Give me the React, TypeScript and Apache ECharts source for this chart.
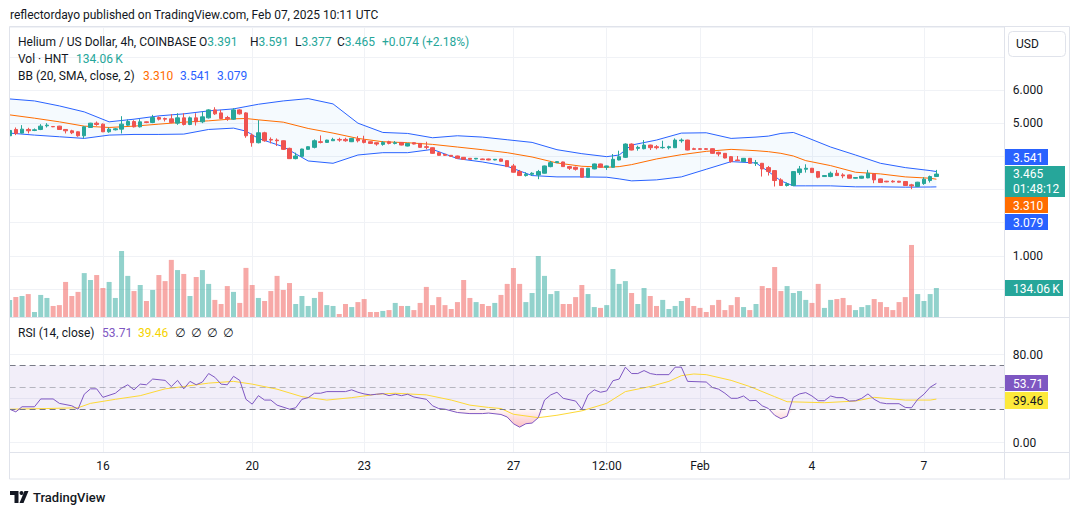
import React, { useEffect, useRef } from 'react';
import * as echarts from 'echarts';

// ---------- DATA ----------
// 4h candles, index 0 = Jan 13 12:00 ... index 149 = Feb 7 08:00
const candleOpen = [
  4.62, 4.81, 4.70, 4.81, 4.78, 4.81, 4.92, 4.90, 4.91, 4.81,
  4.77, 4.74, 4.62, 4.87, 5.00, 4.97, 4.74, 4.80, 4.82, 4.94,
  5.05, 4.89, 5.04, 5.02, 5.17, 5.14, 5.13, 5.00, 5.16, 4.96,
  5.16, 5.04, 5.16, 5.40, 5.31, 5.17, 5.12, 5.40, 5.31, 4.64,
  4.41, 4.71, 4.51, 4.49, 4.47, 4.24, 3.93, 4.00, 4.21, 4.27,
  4.44, 4.42, 4.47, 4.51, 4.51, 4.44, 4.52, 4.49, 4.44, 4.41,
  4.36, 4.44, 4.39, 4.42, 4.31, 4.41, 4.39, 4.29, 4.26, 4.11,
  4.06, 4.03, 4.01, 3.97, 3.94, 3.92, 3.92, 3.92, 3.89, 3.92,
  3.87, 3.71, 3.54, 3.42, 3.46, 3.44, 3.49, 3.69, 3.81, 3.83,
  3.69, 3.67, 3.64, 3.37, 3.62, 3.77, 3.67, 3.67, 3.89, 3.97,
  4.37, 4.24, 4.23, 4.34, 4.29, 4.26, 4.26, 4.26, 4.47, 4.49,
  4.23, 4.23, 4.23, 4.23, 4.12, 4.09, 3.99, 3.89, 3.84, 3.94,
  3.79, 3.79, 3.66, 3.57, 3.29, 3.12, 3.12, 3.51, 3.61, 3.64,
  3.54, 3.39, 3.39, 3.49, 3.44, 3.44, 3.34, 3.34, 3.35, 3.47,
  3.32, 3.25, 3.25, 3.25, 3.24, 3.14, 3.09, 3.18, 3.27, 3.391,
];
const candleClose = [
  4.78, 4.69, 4.82, 4.77, 4.80, 4.91, 4.94, 4.89, 4.81, 4.77,
  4.71, 4.62, 4.89, 5.00, 4.96, 4.74, 4.82, 4.83, 4.97, 5.05,
  4.89, 5.04, 5.02, 5.17, 5.12, 5.12, 5.02, 5.16, 4.96, 5.16,
  5.04, 5.19, 5.40, 5.28, 5.14, 5.13, 5.40, 5.28, 4.62, 4.41,
  4.71, 4.47, 4.49, 4.47, 4.21, 3.93, 4.01, 4.22, 4.29, 4.47,
  4.42, 4.49, 4.51, 4.49, 4.47, 4.54, 4.47, 4.42, 4.39, 4.37,
  4.42, 4.39, 4.41, 4.34, 4.39, 4.37, 4.27, 4.27, 4.09, 4.03,
  4.03, 4.00, 3.94, 3.91, 3.91, 3.94, 3.90, 3.89, 3.91, 3.85,
  3.69, 3.52, 3.42, 3.46, 3.49, 3.54, 3.71, 3.81, 3.84, 3.69,
  3.64, 3.61, 3.37, 3.64, 3.77, 3.67, 3.71, 3.91, 3.99, 4.37,
  4.19, 4.27, 4.34, 4.26, 4.26, 4.27, 4.29, 4.49, 4.49, 4.19,
  4.21, 4.21, 4.21, 4.09, 4.07, 3.95, 3.84, 3.87, 3.94, 3.79,
  3.81, 3.62, 3.54, 3.27, 3.12, 3.17, 3.54, 3.62, 3.64, 3.51,
  3.37, 3.42, 3.49, 3.42, 3.41, 3.34, 3.36, 3.40, 3.49, 3.29,
  3.21, 3.23, 3.23, 3.22, 3.12, 3.11, 3.22, 3.31, 3.39, 3.465,
];
const candleLow = [
  4.58, 4.64, 4.69, 4.69, 4.76, 4.79, 4.87, 4.88, 4.80, 4.69,
  4.67, 4.59, 4.54, 4.86, 4.92, 4.73, 4.71, 4.78, 4.69, 4.92,
  4.87, 4.87, 5.00, 5.00, 5.08, 5.05, 5.00, 4.95, 4.93, 4.94,
  4.93, 5.00, 5.14, 5.25, 5.12, 5.07, 5.10, 5.26, 4.56, 4.29,
  4.39, 4.44, 4.39, 4.31, 4.19, 3.92, 3.91, 3.98, 4.20, 4.24,
  4.39, 4.41, 4.47, 4.44, 4.44, 4.43, 4.42, 4.39, 4.38, 4.32,
  4.32, 4.36, 4.36, 4.33, 4.30, 4.36, 4.26, 4.21, 4.08, 4.02,
  4.01, 3.98, 3.93, 3.90, 3.90, 3.91, 3.89, 3.88, 3.88, 3.84,
  3.68, 3.51, 3.41, 3.39, 3.41, 3.31, 3.48, 3.67, 3.80, 3.68,
  3.59, 3.57, 3.36, 3.36, 3.61, 3.66, 3.59, 3.66, 3.88, 3.95,
  4.18, 4.17, 4.21, 4.19, 4.21, 4.23, 4.21, 4.25, 4.41, 4.18,
  4.19, 4.20, 4.20, 4.08, 4.00, 3.94, 3.81, 3.86, 3.83, 3.78,
  3.71, 3.39, 3.42, 3.09, 3.11, 3.09, 3.11, 3.44, 3.51, 3.50,
  3.34, 3.38, 3.37, 3.41, 3.34, 3.33, 3.33, 3.33, 3.34, 3.19,
  3.20, 3.22, 3.21, 3.21, 3.11, 3.01, 3.08, 3.14, 3.21, 3.377,
];
const candleHigh = [
  4.84, 4.87, 4.94, 4.86, 4.84, 4.97, 5.00, 4.91, 4.92, 4.82,
  4.80, 4.75, 4.91, 5.01, 5.05, 4.99, 4.87, 4.85, 5.21, 5.11,
  5.09, 5.12, 5.05, 5.25, 5.20, 5.17, 5.27, 5.30, 5.30, 5.20,
  5.30, 5.35, 5.42, 5.48, 5.40, 5.22, 5.45, 5.42, 5.33, 4.69,
  5.09, 4.74, 4.57, 4.54, 4.48, 4.26, 4.11, 4.23, 4.30, 4.51,
  4.63, 4.50, 4.56, 4.56, 4.56, 4.55, 4.61, 4.62, 4.45, 4.42,
  4.46, 4.47, 4.46, 4.43, 4.40, 4.42, 4.40, 4.44, 4.27, 4.12,
  4.07, 4.04, 4.02, 3.98, 3.95, 3.95, 3.93, 3.93, 3.92, 3.93,
  3.88, 3.77, 3.59, 3.52, 3.52, 3.59, 3.72, 3.86, 3.85, 3.84,
  3.71, 3.69, 3.65, 3.65, 3.78, 3.78, 3.72, 4.07, 4.17, 4.39,
  4.39, 4.32, 4.49, 4.35, 4.34, 4.47, 4.32, 4.54, 4.54, 4.50,
  4.26, 4.25, 4.25, 4.24, 4.14, 4.10, 4.01, 4.01, 3.95, 3.95,
  3.89, 3.80, 3.71, 3.58, 3.34, 3.21, 3.55, 3.71, 3.76, 3.65,
  3.55, 3.43, 3.54, 3.59, 3.49, 3.45, 3.37, 3.41, 3.59, 3.49,
  3.33, 3.26, 3.28, 3.26, 3.25, 3.17, 3.23, 3.37, 3.42, 3.591,
];
// volume in thousands of HNT
const volumeK = [
  78.6, 92.5, 97, 106, 23, 102, 88, 51, 55, 162,
  97, 116, 203, 171, 194, 134, 162, 88, 305, 190,
  120, 148, 74, 125, 194, 166, 264, 217, 199, 97,
  185, 217, 153, 79, 60, 143, 116, 65, 227, 148,
  88, 74, 120, 190, 125, 157, 60, 97, 51, 88,
  116, 55, 51, 14, 60, 46, 69, 83, 23, 23,
  28, 32, 65, 51, 51, 32, 65, 139, 55, 92,
  55, 37, 69, 171, 88, 69, 60, 51, 65, 102,
  153, 227, 153, 69, 111, 282, 190, 106, 120, 60,
  60, 92, 148, 106, 46, 42, 55, 222, 153, 166,
  111, 60, 134, 97, 51, 79, 37, 51, 74, 88,
  51, 42, 23, 55, 79, 32, 55, 92, 46, 32,
  60, 143, 134, 231, 120, 143, 111, 120, 79, 65,
  153, 42, 79, 83, 88, 55, 32, 46, 55, 83,
  69, 46, 32, 69, 92, 333, 106, 74, 106, 134.06,
];
// Bollinger Bands (20, SMA, close, 2), sampled at candle indices
const bbIdx = [0, 4, 8, 12, 16, 20, 24, 28, 32, 36, 38, 40, 44, 48, 52, 56, 60, 64, 68, 72, 76, 80, 84, 88, 92, 96, 98, 100, 104, 108, 112, 116, 120, 122, 124, 126, 128, 132, 136, 140, 144, 148, 149];
const bbUpper = [5.73, 5.67, 5.52, 5.34, 5.04, 5.12, 5.22, 5.28, 5.37, 5.43, 5.50, 5.57, 5.67, 5.74, 5.58, 5.00, 4.72, 4.69, 4.56, 4.62, 4.58, 4.50, 4.42, 4.20, 4.08, 3.99, 4.04, 4.34, 4.49, 4.70, 4.71, 4.54, 4.58, 4.61, 4.69, 4.72, 4.58, 4.28, 4.04, 3.79, 3.66, 3.57, 3.541];
const bbMiddle = [5.25, 5.15, 5.04, 4.91, 4.87, 4.91, 4.97, 5.03, 5.07, 5.13, 5.14, 5.10, 5.03, 4.84, 4.70, 4.54, 4.44, 4.41, 4.36, 4.28, 4.20, 4.11, 3.98, 3.80, 3.70, 3.67, 3.69, 3.75, 3.92, 4.05, 4.15, 4.21, 4.17, 4.14, 4.09, 4.01, 3.87, 3.72, 3.52, 3.47, 3.38, 3.34, 3.310];
const bbLower = [4.70, 4.64, 4.59, 4.54, 4.64, 4.66, 4.66, 4.67, 4.81, 4.85, 4.76, 4.54, 4.29, 3.86, 3.79, 4.04, 4.11, 4.11, 4.21, 3.93, 3.83, 3.70, 3.42, 3.38, 3.38, 3.37, 3.32, 3.26, 3.29, 3.38, 3.61, 3.84, 3.80, 3.54, 3.26, 3.11, 3.11, 3.11, 3.08, 3.08, 3.07, 3.075, 3.079];
// RSI (14, close): [candle index, value]
const rsiPoints: [number, number][] = [
  [0, 30.3], [1, 27.9], [2, 32.5], [4, 32.5], [5, 39.6], [7, 39.6], [8, 35.6], [10, 33.4], [11, 30.3], [12, 43.9],
  [13, 48.8], [14, 48.8], [15, 41.1], [17, 44.8], [18, 49.4], [19, 52.5], [20, 47.9], [21, 53.1], [22, 52.5], [23, 57.7],
  [25, 56.5], [26, 50.9], [27, 56.5], [28, 48.8], [29, 55.6], [30, 52.5], [31, 55.0], [32, 62.7], [33, 59.3], [34, 53.1],
  [35, 52.5], [36, 60.2], [37, 56.5], [38, 39.3], [39, 34.9], [40, 42.6], [41, 38.6], [42, 38.6], [43, 34.0], [45, 30.3],
  [46, 31.6], [47, 39.3], [48, 40.8], [49, 44.8], [50, 44.8], [51, 46.3], [54, 46.3], [55, 47.9], [56, 45.7], [57, 44.2],
  [58, 43.3], [59, 43.9], [60, 44.5], [61, 42.6], [62, 43.9], [63, 42.6], [64, 43.9], [65, 41.4], [67, 39.3], [68, 33.4],
  [69, 30.9], [70, 30.3], [72, 27.3], [74, 26.3], [76, 26.3], [77, 26.8], [79, 25.5], [80, 23.2], [81, 17.1], [82, 14.0],
  [83, 17.1], [84, 17.7], [85, 22.6], [86, 38.6], [87, 43.3], [88, 45.7], [89, 40.2], [91, 37.7], [92, 30.3], [93, 43.3],
  [94, 47.9], [95, 45.7], [96, 46.9], [97, 56.2], [98, 57.7], [99, 68.5], [100, 62.7], [101, 62.7], [102, 65.4], [103, 62.7],
  [104, 61.7], [106, 61.7], [107, 68.5], [108, 68.5], [109, 55.6], [112, 55.0], [113, 50.0], [114, 48.5], [115, 44.8], [116, 40.2],
  [117, 40.2], [118, 42.3], [119, 38.0], [120, 38.3], [121, 33.4], [122, 30.9], [123, 24.8], [124, 21.7], [125, 23.9], [126, 41.1],
  [127, 44.2], [128, 45.4], [129, 42.3], [130, 38.0], [131, 38.0], [132, 42.3], [133, 40.8], [134, 40.8], [135, 37.7], [136, 38.0],
  [137, 40.2], [138, 44.2], [139, 39.3], [140, 36.2], [141, 35.3], [143, 35.3], [144, 31.9], [145, 31.6], [146, 39.3], [147, 43.9],
  [148, 50.3], [149, 53.71],
];
// RSI-based moving average: [candle index, value]
const rsiMaPoints: [number, number][] = [
  [0, 30.3], [6, 30.9], [11, 31.6], [13, 35.6], [17, 39.3], [21, 42.6], [25, 48.8], [28, 50.9], [32, 54.0], [36, 55.6],
  [39, 53.1], [43, 48.5], [47, 41.7], [51, 38.6], [55, 40.8], [59, 43.9], [62, 44.8], [67, 43.3], [71, 38.6], [74, 34.0],
  [77, 31.9], [79, 30.9], [81, 25.7], [85, 22.6], [88, 24.8], [92, 28.8], [96, 35.6], [99, 46.3], [103, 50.9], [106, 55.6],
  [108, 60.8], [110, 62.3], [112, 61.7], [116, 56.5], [119, 50.9], [123, 41.7], [125, 37.1], [131, 36.2], [136, 37.7], [139, 41.1],
  [144, 38.6], [148, 38.6], [149, 39.46],
];
// time axis tick labels at candle indices
const tickIdx = [15, 39, 57, 81, 96, 111, 129, 147];
const tickLabels = ['16', '20', '23', '27', '12:00', 'Feb', '4', '7'];
const priceAxisShown = [6, 5, 1];
const rsiAxisShown = [80, 0];
const RSI_UPPER = 70;
const RSI_MID = 50;
const RSI_LOWER = 30;
const lastO = '3.391', lastH = '3.591', lastL = '3.377', lastC = '3.465', lastChg = '+0.074 (+2.18%)';
const lastVol = '134.06\u2009K';
const lastBB = { mid: '3.310', up: '3.541', low: '3.079' };
const lastRsi = '53.71', lastRsiMa = '39.46';

// ---------- STYLE ----------
const FONT = 'Roboto, "Noto Sans", "DejaVu Sans", sans-serif';
const TXT = '#131722';
const UP = '#26a69a';
const DOWN = '#ef5350';
const GRID = '#f0f2f6';
const BORDER = '#e0e3eb';
const N_CAT = 161;

function buildOption(): any {
  const cats = Array.from({ length: N_CAT }, (_, i) => {
    const k = tickIdx.indexOf(i);
    return k >= 0 ? tickLabels[k] : '';
  });
  const tickFn = (index: number) => tickIdx.includes(index);

  const candles = candleOpen.map((o, i) => [o, candleClose[i], candleLow[i], candleHigh[i]]);
  const volumes = volumeK.map((v, i) => ({
    value: v,
    itemStyle: { color: candleClose[i] >= candleOpen[i] ? 'rgba(38,166,154,0.5)' : 'rgba(239,83,80,0.5)' },
  }));
  const bbU = bbIdx.map((x, k) => [x, bbUpper[k]]);
  const bbM = bbIdx.map((x, k) => [x, bbMiddle[k]]);
  const bbL = bbIdx.map((x, k) => [x, bbLower[k]]);
  const bbW = bbIdx.map((x, k) => [x, +(bbUpper[k] - bbLower[k]).toFixed(4)]);
  const rsiLowBase = rsiPoints.map(([x, v]) => [x, Math.min(v, RSI_LOWER)]);
  const rsiLowFill = rsiPoints.map(([x, v]) => [x, RSI_LOWER - Math.min(v, RSI_LOWER)]);

  const f12 = `12px ${FONT}`;
  const text = (x: number, y: number, t: string, fill: string, extra: any = {}) => ({
    type: 'text', x, y, z: 100, silent: true,
    style: { text: t, fill, font: f12, textAlign: 'left', textVerticalAlign: 'middle', ...extra },
  });
  const rect = (x: number, y: number, w: number, h: number, fill: string, z = 90, r = 0) => ({
    type: 'rect', z, silent: true, shape: { x, y, width: w, height: h, r }, style: { fill },
  });
  const hline = (x1: number, x2: number, y: number, color = BORDER) => ({
    type: 'line', z: 95, silent: true, shape: { x1, y1: y, x2, y2: y }, style: { stroke: color, lineWidth: 1 },
  });
  const vline = (x: number, y1: number, y2: number, color = BORDER) => ({
    type: 'line', z: 95, silent: true, shape: { x1: x, y1, x2: x, y2 }, style: { stroke: color, lineWidth: 1 },
  });

  const graphic: any[] = [
    // cover overflow on the left of the pane
    rect(0, 26, 9, 454, '#ffffff', 80),
    // frame and separators
    { type: 'rect', z: 95, silent: true, shape: { x: 9.5, y: 26.5, width: 1060, height: 452.5 }, style: { fill: 'none', stroke: BORDER, lineWidth: 1 } },
    vline(1004.5, 26.5, 479),
    hline(9.5, 1069.5, 317.5),
    hline(9.5, 1069.5, 452.5),
    // header
    text(10, 15, 'reflectordayo published on TradingView.com, Feb 07, 2025 10:11 UTC', TXT),
    // legend line 1
    text(18, 42, 'Helium / US Dollar, 4h, COINBASE', TXT),
    text(199, 42, `{k|O}{v|${lastO}}`, TXT, { rich: { k: { fill: TXT, font: f12 }, v: { fill: UP, font: f12 } } }),
    text(250, 42, `{k|H}{v|${lastH}}`, TXT, { rich: { k: { fill: TXT, font: f12 }, v: { fill: UP, font: f12 } } }),
    text(295, 42, `{k|L}{v|${lastL}}`, TXT, { rich: { k: { fill: TXT, font: f12 }, v: { fill: UP, font: f12 } } }),
    text(337, 42, `{k|C}{v|${lastC}}`, TXT, { rich: { k: { fill: TXT, font: f12 }, v: { fill: UP, font: f12 } } }),
    text(382, 42, lastChg, UP),
    // legend line 2
    text(18, 59, 'Vol \u00b7 HNT', TXT),
    text(76, 59, lastVol, UP),
    // legend line 3
    text(18, 76, 'BB (20, SMA, close, 2)', TXT),
    text(143, 76, lastBB.mid, '#ff6d00'),
    text(180, 76, lastBB.up, '#2962ff'),
    text(217, 76, lastBB.low, '#2962ff'),
    // RSI legend
    text(18, 333, 'RSI (14, close)', TXT),
    text(102, 333, lastRsi, '#7e57c2'),
    text(138, 333, lastRsiMa, '#f5d300'),
    text(175, 333, '\u2205', TXT),
    text(191, 333, '\u2205', TXT),
    text(207, 333, '\u2205', TXT),
    text(223, 333, '\u2205', TXT),
    // USD box
    { type: 'rect', z: 96, silent: true, shape: { x: 1008.5, y: 31.5, width: 57, height: 25, r: 4 }, style: { fill: '#fff', stroke: BORDER, lineWidth: 1 } },
    text(1016, 44, 'USD', TXT),
    // price scale labels
    rect(1005, 149, 43, 16, '#2962ff'),
    text(1013, 157.5, lastBB.up, '#fff'),
    rect(1005, 166, 60, 31, UP),
    text(1013, 173.5, lastC, '#fff'),
    text(1013, 188.5, '01:48:12', '#fff'),
    rect(1005, 197, 43, 16, '#ff6d00'),
    text(1013, 205.5, lastBB.mid, '#fff'),
    rect(1005, 214, 43, 16, '#2962ff'),
    text(1013, 222.5, lastBB.low, '#fff'),
    rect(1005, 280, 58, 16, UP),
    text(1013, 288.5, lastVol, '#fff'),
    rect(1005, 375, 43, 16, '#7e57c2'),
    text(1013, 383.5, lastRsi, '#fff'),
    rect(1005, 392, 43, 17, '#fde93b'),
    text(1013, 400.5, lastRsiMa, TXT),
    // TradingView logo
    { type: 'polygon', z: 100, silent: true, shape: { points: [[10, 491], [18.5, 491], [18.5, 503], [14.5, 503], [14.5, 495], [10, 495]] }, style: { fill: TXT } },
    { type: 'circle', z: 100, silent: true, shape: { cx: 21.5, cy: 493, r: 2 }, style: { fill: TXT } },
    { type: 'polygon', z: 100, silent: true, shape: { points: [[24.5, 491], [28.5, 491], [23.5, 503], [19.5, 503]] }, style: { fill: TXT } },
    text(33, 497.5, 'TradingView', TXT, { font: `500 13px ${FONT}` }),
  ];

  const xCommon = {
    type: 'category', data: cats, boundaryGap: false,
    axisLine: { show: false }, axisTick: { show: false },
    splitLine: { show: true, interval: tickFn, lineStyle: { color: GRID, width: 1 } },
  };

  return {
    animation: false,
    backgroundColor: '#ffffff',
    textStyle: { fontFamily: FONT },
    graphic,
    grid: [
      { left: 9.6, right: 75.2, top: 27, height: 290 },
      { left: 9.6, right: 75.2, top: 317, height: 135 },
    ],
    xAxis: [
      { ...xCommon, gridIndex: 0, axisLabel: { show: false } },
      { ...xCommon, gridIndex: 1, axisLabel: { show: true, interval: tickFn, margin: 8, color: TXT, fontSize: 12, fontFamily: FONT } },
    ],
    yAxis: [
      {
        type: 'value', gridIndex: 0, position: 'right', min: -0.844, max: 7.899, minInterval: 1, maxInterval: 1,
        axisLine: { show: false }, axisTick: { show: false },
        axisLabel: {
          margin: 8, color: TXT, fontSize: 12, fontFamily: FONT,
          formatter: (v: number) => (priceAxisShown.some((p) => Math.abs(p - v) < 1e-6) ? v.toFixed(3) : ''),
        },
        splitLine: { show: true, lineStyle: { color: GRID } },
      },
      { type: 'value', gridIndex: 0, min: 0, max: 1340.6, show: false, splitLine: { show: false } },
      {
        type: 'value', gridIndex: 1, position: 'right', min: -8.6, max: 114.1, minInterval: 40, maxInterval: 40,
        axisLine: { show: false }, axisTick: { show: false },
        axisLabel: {
          margin: 8, color: TXT, fontSize: 12, fontFamily: FONT,
          formatter: (v: number) => (rsiAxisShown.some((p) => Math.abs(p - v) < 1e-6) ? v.toFixed(2) : ''),
        },
        splitLine: { show: true, lineStyle: { color: GRID } },
      },
    ],
    series: [
      { name: 'Volume', type: 'bar', xAxisIndex: 0, yAxisIndex: 1, barWidth: 5, data: volumes, z: 1, silent: true },
      {
        name: 'bbBase', type: 'line', xAxisIndex: 0, yAxisIndex: 0, stack: 'bb', data: bbL, symbol: 'none',
        lineStyle: { opacity: 0 }, z: 2, silent: true,
      },
      {
        name: 'bbFill', type: 'line', xAxisIndex: 0, yAxisIndex: 0, stack: 'bb', data: bbW, symbol: 'none',
        lineStyle: { opacity: 0 }, areaStyle: { color: 'rgba(33,150,243,0.06)' }, z: 2, silent: true,
      },
      { name: 'BB upper', type: 'line', xAxisIndex: 0, yAxisIndex: 0, data: bbU, symbol: 'none', lineStyle: { color: '#2962ff', width: 1 }, z: 3, silent: true },
      { name: 'BB lower', type: 'line', xAxisIndex: 0, yAxisIndex: 0, data: bbL, symbol: 'none', lineStyle: { color: '#2962ff', width: 1 }, z: 3, silent: true },
      { name: 'BB basis', type: 'line', xAxisIndex: 0, yAxisIndex: 0, data: bbM, symbol: 'none', lineStyle: { color: '#ff6d00', width: 1 }, z: 3, silent: true },
      {
        name: 'HNT', type: 'candlestick', xAxisIndex: 0, yAxisIndex: 0, data: candles, barWidth: 4, z: 4, silent: true,
        itemStyle: { color: UP, color0: DOWN, borderColor: UP, borderColor0: DOWN, borderWidth: 1 },
      },
      {
        name: 'rsiLowBase', type: 'line', xAxisIndex: 1, yAxisIndex: 2, stack: 'rsiLow', data: rsiLowBase, symbol: 'none',
        lineStyle: { opacity: 0 }, z: 1, silent: true,
        markArea: { silent: true, itemStyle: { color: 'rgba(126,87,194,0.1)' }, data: [[{ yAxis: RSI_LOWER }, { yAxis: RSI_UPPER }]] },
        markLine: {
          silent: true, symbol: ['none', 'none'], label: { show: false },
          data: [
            { yAxis: RSI_UPPER, lineStyle: { color: '#787b86', type: [6, 4], width: 1 } },
            { yAxis: RSI_MID, lineStyle: { color: 'rgba(120,123,134,0.5)', type: [6, 4], width: 1 } },
            { yAxis: RSI_LOWER, lineStyle: { color: '#787b86', type: [6, 4], width: 1 } },
          ],
        },
      },
      {
        name: 'rsiLowFill', type: 'line', xAxisIndex: 1, yAxisIndex: 2, stack: 'rsiLow', data: rsiLowFill, symbol: 'none',
        lineStyle: { opacity: 0 }, z: 2, silent: true,
        areaStyle: {
          color: { type: 'linear', x: 0, y: 0, x2: 0, y2: 1, colorStops: [{ offset: 0, color: 'rgba(242,54,69,0.05)' }, { offset: 1, color: 'rgba(242,54,69,0.45)' }] },
        },
      },
      { name: 'RSI-MA', type: 'line', xAxisIndex: 1, yAxisIndex: 2, data: rsiMaPoints, symbol: 'none', lineStyle: { color: '#fdd835', width: 1 }, z: 3, silent: true },
      { name: 'RSI', type: 'line', xAxisIndex: 1, yAxisIndex: 2, data: rsiPoints, symbol: 'none', lineStyle: { color: '#7e57c2', width: 1 }, z: 4, silent: true },
    ],
  };
}

export default function App() {
  const ref = useRef<HTMLDivElement>(null);
  useEffect(() => {
    if (!ref.current) return;
    const chart = echarts.init(ref.current, undefined, { renderer: 'svg', width: 1080, height: 515 });
    chart.setOption(buildOption());
    return () => chart.dispose();
  }, []);
  return <div ref={ref} style={{ position: 'fixed', left: 0, top: 0, width: 1080, height: 515, background: '#fff' }} />;
}
